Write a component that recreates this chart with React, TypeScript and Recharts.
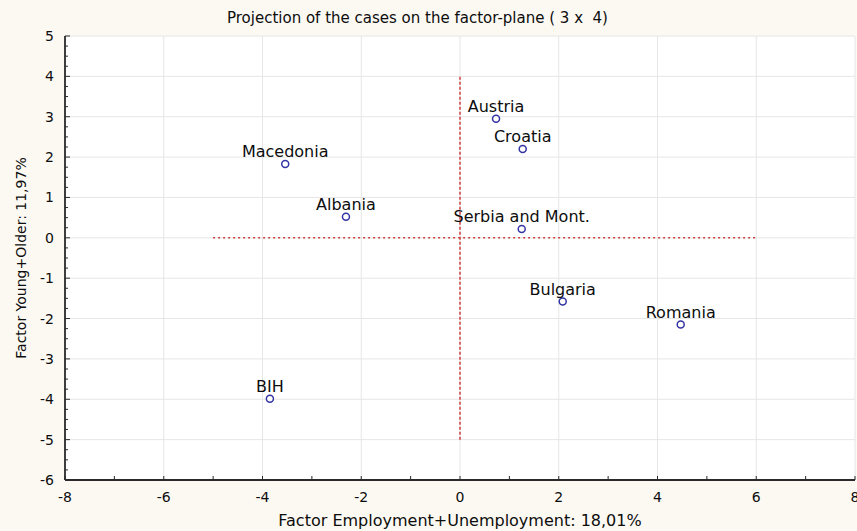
import { ScatterChart, Scatter, XAxis, YAxis, CartesianGrid, ReferenceLine } from 'recharts';

const countries = ['Austria', 'Croatia', 'Serbia and Mont.', 'Macedonia', 'Albania', 'Bulgaria', 'Romania', 'BIH'];
const employmentFactor = [0.73, 1.27, 1.25, -3.54, -2.31, 2.08, 4.47, -3.85];
const youngOlderFactor = [2.95, 2.2, 0.22, 1.83, 0.52, -1.58, -2.15, -3.99];

const X_TICKS = [-8, -7, -6, -5, -4, -3, -2, -1, 0, 1, 2, 3, 4, 5, 6, 7, 8];
const X_LABELED = [-8, -6, -4, -2, 0, 2, 4, 6, 8];
const Y_LABELED = [-6, -5, -4, -3, -2, -1, 0, 1, 2, 3, 4, 5];
// quarter-step minor ticks between the labelled ones
const Y_TICKS = Y_LABELED.flatMap((v) => (v === 5 ? [v] : [v, v + 0.25, v + 0.5, v + 0.75]));

const TITLE = 'Projection of the cases on the factor-plane ( 3 x  4)';
const X_TITLE = 'Factor Employment+Unemployment: 18,01%';
const Y_TITLE = 'Factor Young+Older: 11,97%';

const points = countries.map((name, i) => ({ name, x: employmentFactor[i], y: youngOlderFactor[i] }));

const FONT = '"DejaVu Sans", "Liberation Sans", sans-serif';
const INK = '#0d0d0d';
const FRAME = '#2a2a2a';
const BG = '#fcf9f3';
const RED = '#cf3f3f';
const X_TICK_GAP = 12;
const Y_TICK_GAP = 11;

function BottomTick(props: any) {
  const { x, y, payload } = props;
  const axisY = y - X_TICK_GAP;
  const labeled = X_LABELED.includes(payload.value);
  return (
    <g>
      <line x1={x} x2={x} y1={axisY} y2={axisY - 4} stroke={FRAME} />
      {labeled && (
        <text x={x} y={y} dy="0.71em" textAnchor="middle" fontSize={14} fontFamily={FONT} fill={INK}>
          {payload.value}
        </text>
      )}
    </g>
  );
}

function LeftTick(props: any) {
  const { x, y, payload } = props;
  const axisX = x + Y_TICK_GAP;
  const labeled = Number.isInteger(payload.value);
  return (
    <g>
      <line x1={axisX} x2={axisX + (labeled ? 5 : 3)} y1={y} y2={y} stroke={FRAME} />
      {labeled && (
        <text x={x} y={y} dy="0.355em" textAnchor="end" fontSize={14} fontFamily={FONT} fill={INK}>
          {payload.value}
        </text>
      )}
    </g>
  );
}

function CaseMark(props: any) {
  const { cx, cy, payload } = props;
  return (
    <g>
      <circle cx={cx} cy={cy} r={3.5} fill="#fff" stroke="#3434a4" strokeWidth={1.5} />
      <text x={cx} y={cy - 7} textAnchor="middle" fontSize={16} fontFamily={FONT} fill={INK}>
        {payload.name}
      </text>
    </g>
  );
}

function YTitle(props: any) {
  const { viewBox } = props;
  const cx = 21;
  const cy = viewBox.y + viewBox.height / 2;
  return (
    <text x={cx} y={cy} dy="0.355em" transform={`rotate(-90 ${cx} ${cy})`} textAnchor="middle" fontSize={14} fontFamily={FONT} fill={INK}>
      {Y_TITLE}
    </text>
  );
}

function XTitle(props: any) {
  const { viewBox } = props;
  return (
    <text x={viewBox.x + viewBox.width / 2} y={viewBox.y + viewBox.height - 5} textAnchor="middle" fontSize={16} fontFamily={FONT} fill={INK}>
      {X_TITLE}
    </text>
  );
}

export default function App() {
  return (
    <div style={{ position: 'absolute', left: 0, top: 0, width: 857, height: 531, background: BG, overflow: 'hidden' }}>
      <div
        style={{
          position: 'absolute',
          left: 227,
          top: 9,
          fontFamily: FONT,
          fontSize: 15,
          lineHeight: '18px',
          whiteSpace: 'pre',
          color: INK,
        }}
      >
        {TITLE}
      </div>
      <ScatterChart width={857} height={531} margin={{ top: 36, right: 2, bottom: 0, left: 0 }}>
        <CartesianGrid
          stroke="#e6e6e6"
          fill="#fff"
          fillOpacity={1}
          horizontalValues={Y_LABELED}
          verticalValues={X_LABELED}
        />
        <XAxis
          dataKey="x"
          type="number"
          domain={[-8, 8]}
          ticks={X_TICKS}
          allowDataOverflow
          height={51}
          tickSize={0}
          tickMargin={X_TICK_GAP}
          tickLine={false}
          tick={<BottomTick />}
          axisLine={{ stroke: FRAME, strokeWidth: 1.8 }}
          interval={0}
          label={<XTitle />}
        />
        <XAxis
          xAxisId="top"
          orientation="top"
          mirror
          type="number"
          domain={[-8, 8]}
          ticks={X_TICKS}
          allowDataOverflow
          height={0}
          tickSize={4}
          tick={false}
          tickLine={{ stroke: FRAME }}
          axisLine={{ stroke: FRAME, strokeWidth: 1.8 }}
          interval={0}
        />
        <YAxis
          dataKey="y"
          type="number"
          domain={[-6, 5]}
          ticks={Y_TICKS}
          allowDataOverflow
          width={65}
          tickSize={0}
          tickMargin={Y_TICK_GAP}
          tickLine={false}
          tick={<LeftTick />}
          axisLine={{ stroke: FRAME, strokeWidth: 1.8 }}
          interval={0}
          label={<YTitle />}
        />
        <YAxis
          yAxisId="right"
          orientation="right"
          mirror
          type="number"
          domain={[-6, 5]}
          ticks={Y_TICKS}
          allowDataOverflow
          width={0}
          tickSize={4}
          tick={false}
          tickLine={{ stroke: FRAME }}
          axisLine={{ stroke: FRAME, strokeWidth: 1.8 }}
          interval={0}
        />
        <ReferenceLine
          segment={[{ x: -5, y: 0 }, { x: 6, y: 0 }]}
          stroke={RED}
          strokeWidth={1.5}
          strokeDasharray="2 3"
        />
        <ReferenceLine
          segment={[{ x: 0, y: -5 }, { x: 0, y: 4 }]}
          stroke={RED}
          strokeWidth={1.5}
          strokeDasharray="3 2"
        />
        <Scatter data={points} shape={<CaseMark />} isAnimationActive={false} />
      </ScatterChart>
    </div>
  );
}
